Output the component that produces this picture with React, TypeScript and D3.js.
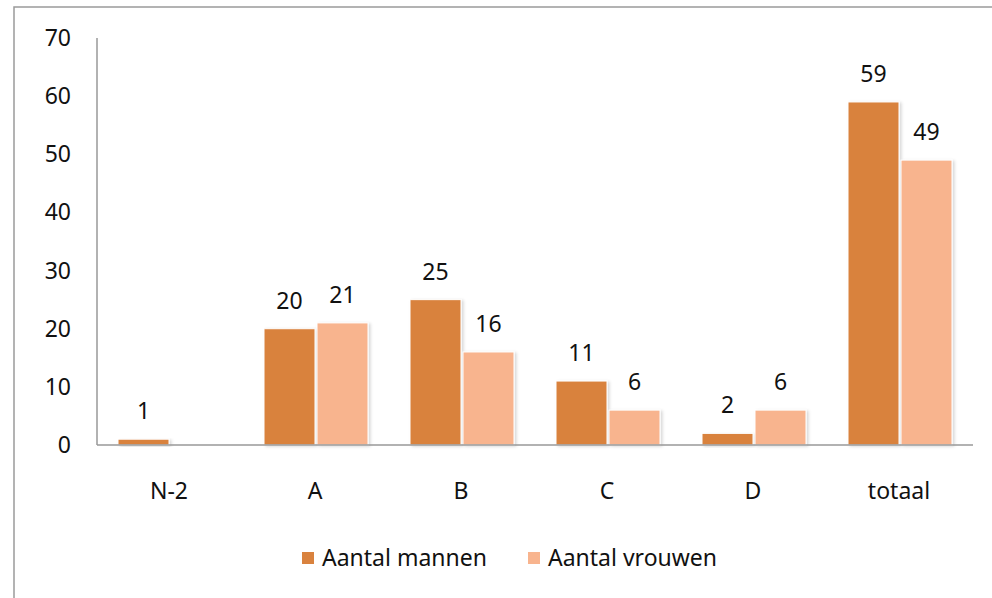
import * as d3 from "d3"

const categories = ["N-2", "A", "B", "C", "D", "totaal"]
const mannen = [1, 20, 25, 11, 2, 59]
const vrouwen = [0, 21, 16, 6, 6, 49]
const seriesNames = ["Aantal mannen", "Aantal vrouwen"]
const yTicks = [0, 10, 20, 30, 40, 50, 60, 70]

const colors = ["#d9823e", "#f8b48e"]
const width = 992
const height = 598
const font = "'Noto Sans', 'Open Sans', sans-serif"
const fs = 23

export default function App() {
  const left = 97, right = 973, top = 38, bottom = 445

  const x = d3.scaleBand().domain(categories).range([left, right])
  const y = d3.scaleLinear().domain([0, 70]).range([bottom, top])
  const barW = 51

  const series = [mannen, vrouwen]

  return (
    <svg width={width} height={height} style={{ position: "absolute", left: 0, top: 0, background: "#fff" }}
      fontFamily={font}>
      <defs>
        <filter id="shadow" x="-10%" y="-10%" width="130%" height="130%">
          <feDropShadow dx="2" dy="1" stdDeviation="1.5" floodColor="#000" floodOpacity="0.16" />
        </filter>
      </defs>
      {/* outer frame */}
      <rect x={14} y={7} width={1000} height={620} fill="none" stroke="#9a9a9a" strokeWidth={1.5} />

      {/* y tick labels */}
      {yTicks.map(t => (
        <text key={t} x={71} y={y(t)} dy="0.35em" textAnchor="end" fontSize={fs} fill="#111">{t}</text>
      ))}

      {/* bars */}
      {series.map((vals, si) => (
        <g key={si}>
          {categories.map((c, i) => {
            const v = vals[i]
            if (!v) return null
            const cx = x(c) + x.bandwidth() / 2
            const bx = si === 0 ? cx - barW - 1 : cx + 1
            return (
              <g key={c}>
                <rect x={bx} y={y(v)} width={barW} height={bottom - y(v)} fill={colors[si]}
                  stroke="#fff" strokeWidth={1} filter="url(#shadow)" />
                <text x={bx + barW / 2} y={y(v) - 20} textAnchor="middle" fontSize={fs} fill="#111">{v}</text>
              </g>
            )
          })}
        </g>
      ))}

      {/* axes */}
      <line x1={left} x2={left} y1={top} y2={bottom} stroke="#999" strokeWidth={1.5} />
      <line x1={left} x2={right} y1={bottom} y2={bottom} stroke="#999" strokeWidth={1.5} />

      {/* category labels */}
      {categories.map(c => (
        <text key={c} x={x(c) + x.bandwidth() / 2 - 1} y={491} dy="0.35em" textAnchor="middle" fontSize={fs} fill="#111">{c}</text>
      ))}

      {/* legend */}
      {seriesNames.map((n, i) => {
        const lx = i === 0 ? 302 : 528
        return (
          <g key={n}>
            <rect x={lx} y={552} width={12} height={12} fill={colors[i]} />
            <text x={lx + 20} y={558} dy="0.35em" fontSize={fs} fill="#111">{n}</text>
          </g>
        )
      })}
    </svg>
  )
}
